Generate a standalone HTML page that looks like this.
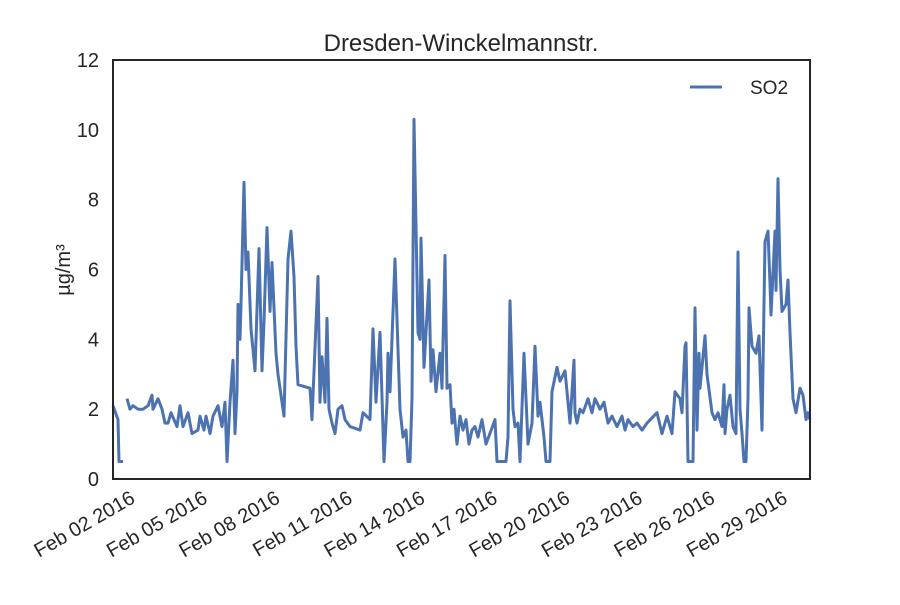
<!DOCTYPE html>
<html><head><meta charset="utf-8">
<style>
body{margin:0;background:#fff;font-family:"Liberation Sans",Arial,sans-serif;}
svg text{font-family:"Liberation Sans",Arial,sans-serif;fill:#262626;}
</style></head>
<body>
<svg id="chart" width="900" height="600" viewBox="0 0 900 600" xmlns="http://www.w3.org/2000/svg">
<rect width="900" height="600" fill="#fff"/>
<text x="461" y="51" font-size="24" text-anchor="middle">Dresden-Winckelmannstr.</text>
<text transform="translate(70,270) rotate(-90)" font-size="20" text-anchor="middle">µg/m³</text>
<g id="yticks"></g>
<g id="xticks"></g>
<path id="series" fill="none" stroke="#4c72b0" stroke-width="3" stroke-linejoin="round"/>
<rect x="113" y="60" width="697" height="419" fill="none" stroke="#262626" stroke-width="2"/>
<g>
<line x1="690" y1="87" x2="722" y2="87" stroke="#4c72b0" stroke-width="3"/>
<text x="750" y="94" font-size="19">SO2</text>
</g>
</svg>
<script>
// [hours since axis start (Feb 01 ~09:30), SO2 value]; null = gap in data
const readings = [[0,2.1],[5,1.7],[6,0.5],[10,0.5],null,
[14,2.3],[17,2.0],[20,2.1],[25,2.0],[30,2.0],[35,2.1],[39,2.4],[40,2.0],[45,2.3],[49,2.0],[52,1.6],[55,1.6],[58,1.9],[64,1.5],[67,2.1],[70,1.5],[75,1.9],[79,1.3],[85,1.4],[87,1.8],[91,1.4],[93,1.8],[97,1.3],[100,1.8],[105,2.1],[109,1.5],[112,2.2],[114,0.5],[117,2.2],[120,3.4],[122,1.3],[124,2.5],[125,5.0],[127,4.0],[128,5.0],[131,8.5],[133,6.0],[135,6.5],[138,4.3],[142,3.1],[146,6.6],[149,3.1],[151,4.5],[154,7.2],[157,4.8],[159,6.2],[163,3.6],[165,3.0],[171,1.8],[175,6.3],[178,7.1],[181,5.8],[183,3.8],[185,2.7],[197,2.6],[199,1.7],[205,5.8],[207,2.2],[209,3.5],[212,2.2],[214,4.6],[216,2.0],[219,1.6],[222,1.3],[225,2.0],[229,2.1],[232,1.7],[237,1.5],[247,1.4],[250,1.9],[257,1.7],[260,4.3],[263,2.2],[267,4.2],[271,0.5],[274,2.2],[275,3.6],[277,2.5],[282,6.3],[287,2.0],[290,1.2],[293,1.4],[295,0.5],[297,0.5],[299,2.3],[301,10.3],[305,4.2],[307,4.0],[308,6.9],[311,3.2],[313,4.2],[316,5.7],[318,2.8],[320,3.7],[323,2.5],[327,3.6],[329,2.6],[332,6.4],[334,2.6],[337,2.7],[339,1.6],[341,2.0],[343,1.3],[344,1.0],[347,1.8],[350,1.4],[353,1.7],[356,1.0],[359,1.4],[362,1.5],[365,1.2],[369,1.7],[373,1.0],[382,1.7],[384,0.5],[393,0.5],[395,1.2],[397,5.1],[400,2.0],[402,1.5],[405,1.6],[407,0.5],[411,3.6],[415,1.0],[419,1.6],[422,3.8],[425,1.8],[427,2.2],[431,1.2],[433,0.5],[437,0.5],[439,2.5],[444,3.2],[447,2.8],[452,3.1],[455,2.2],[457,1.6],[461,3.4],[462,1.9],[464,1.6],[467,2.0],[470,1.9],[475,2.3],[479,1.9],[482,2.3],[487,2.0],[491,2.2],[495,1.6],[499,1.8],[504,1.5],[509,1.8],[512,1.4],[515,1.7],[520,1.5],[524,1.6],[529,1.4],[534,1.6],[544,1.9],[549,1.3],[554,1.8],[559,1.3],[562,2.5],[567,2.3],[569,1.9],[572,3.8],[573,3.9],[575,0.5],[580,0.5],[582,4.9],[584,1.4],[586,3.6],[587,2.6],[592,4.1],[594,3.0],[599,1.9],[602,1.7],[605,1.9],[609,1.5],[611,2.7],[612,1.3],[614,2.0],[617,2.4],[620,1.5],[623,1.3],[625,6.5],[627,2.0],[629,1.3],[631,0.5],[633,0.5],[635,2.3],[636,4.9],[639,3.8],[643,3.6],[646,4.1],[649,1.4],[652,6.8],[655,7.1],[657,5.6],[658,4.7],[662,7.1],[663,5.4],[665,8.6],[667,6.0],[669,4.8],[673,5.0],[675,5.7],[677,4.2],[680,2.3],[683,1.9],[687,2.6],[690,2.4],[693,1.7],[695,1.9],[697,1.7]];
const hours = readings.map(r=>r?r[0]:null);
const values = readings.map(r=>r?r[1]:null);
const yTicks = [0,2,4,6,8,10,12];
const xTickLabels = ["Feb 02 2016","Feb 05 2016","Feb 08 2016","Feb 11 2016","Feb 14 2016","Feb 17 2016","Feb 20 2016","Feb 23 2016","Feb 26 2016","Feb 29 2016"];
const xTickHours = [14.5,87,159.5,232,304.5,377,449.5,522,594.5,667];

const X0=113,X1=810,Y0=479,Y1=60,HMAX=697,VMAX=12;
const xs=h=>X0+h/HMAX*(X1-X0);
const ys=v=>Y0-v/VMAX*(Y0-Y1);
const NS="http://www.w3.org/2000/svg";
let d="",pen=false;
for(let i=0;i<hours.length;i++){
  if(hours[i]===null||values[i]===null){pen=false;continue;}
  d+=(pen?"L":"M")+xs(hours[i]).toFixed(1)+","+ys(values[i]).toFixed(1);
  pen=true;
}
document.getElementById("series").setAttribute("d",d);
const yg=document.getElementById("yticks");
yTicks.forEach(v=>{
  const t=document.createElementNS(NS,"text");
  
  
  t.setAttribute("x",99);t.setAttribute("y",ys(v)+7);
  t.setAttribute("font-size","20");t.setAttribute("text-anchor","end");
  t.textContent=v;yg.appendChild(t);
});
const xg=document.getElementById("xticks");
xTickLabels.forEach((lab,i)=>{
  const x=xs(xTickHours[i]);
  const t=document.createElementNS(NS,"text");
  
  
  t.setAttribute("transform",`translate(${x+2},${490}) rotate(-30)`);
  t.setAttribute("font-size","20");t.setAttribute("text-anchor","end");
  t.setAttribute("dominant-baseline","hanging");
  t.textContent=lab;xg.appendChild(t);
});
</script>
</body></html>
